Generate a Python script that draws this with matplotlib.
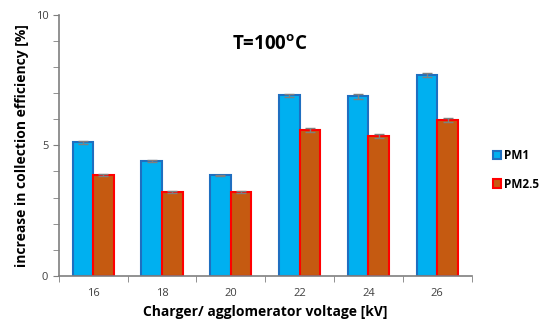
import matplotlib
matplotlib.use("Agg")
import matplotlib.pyplot as plt
import numpy as np
from matplotlib.patches import Patch
from matplotlib.ticker import MultipleLocator

categories = ["16", "18", "20", "22", "24", "26"]
pm1 = [5.12, 4.41, 3.85, 6.92, 6.88, 7.70]
pm25 = [3.86, 3.20, 3.22, 5.58, 5.36, 5.97]
pm1_err = [0.05, 0.04, 0.03, 0.05, 0.09, 0.07]
pm25_err = [0.05, 0.04, 0.04, 0.07, 0.08, 0.08]

plt.rcParams['font.family'] = ['Open Sans', 'DejaVu Sans']

fig = plt.figure(figsize=(5.44, 3.23), dpi=100)
ax = fig.add_axes([0.108, 0.1464, 0.759, 0.807])

x = np.arange(len(categories))
w = 0.3
blue_face, blue_edge = "#00B0F0", "#1F6FC0"
red_face, red_edge = "#C55A11", "#FF0000"
ax.bar(x - w/2, pm1, w, color=blue_face, edgecolor=blue_edge, linewidth=1.5,
       yerr=pm1_err, error_kw=dict(ecolor="#7F7F7F", capsize=3.5, elinewidth=1, capthick=1))
ax.bar(x + w/2, pm25, w, color=red_face, edgecolor=red_edge, linewidth=1.5,
       yerr=pm25_err, error_kw=dict(ecolor="#7F7F7F", capsize=3.5, elinewidth=1, capthick=1))

ax.set_xlim(-0.5, len(categories) - 0.5)
ax.set_ylim(0, 10)
ax.yaxis.set_major_locator(MultipleLocator(5))
ax.yaxis.set_minor_locator(MultipleLocator(1))
ax.set_xticks(x)
ax.set_xticklabels(categories)
ax.set_xticks(np.arange(-0.5, len(categories)), minor=True)
ax.tick_params(axis='x', which='major', length=0, labelsize=8, colors="#404040", pad=9)
ax.tick_params(axis='x', which='minor', length=4, direction='out', color="#7F7F7F")
ax.tick_params(axis='y', which='both', length=4, direction='out', color="#7F7F7F", labelsize=8, labelcolor="#404040")
for s in ['top', 'right']:
    ax.spines[s].set_visible(False)
for s in ['left', 'bottom']:
    ax.spines[s].set_color("#7F7F7F")
    ax.spines[s].set_linewidth(1.2)

ax.set_ylabel("increase in collection efficiency [%]", fontsize=10, fontweight='bold', labelpad=5)
ax.set_xlabel("Charger/ agglomerator voltage [kV]", fontsize=10, fontweight='bold', labelpad=4)

fig.text(270/544, 1 - 45/323, "T=100$^\\mathregular{o}$C", ha='center', va='center',
         fontsize=13.5, fontweight='bold')

handles = [Patch(facecolor=blue_face, edgecolor=blue_edge, linewidth=1.5, label="PM1"),
           Patch(facecolor=red_face, edgecolor=red_edge, linewidth=1.5, label="PM2.5")]
leg = fig.legend(handles=handles, loc='center left', bbox_to_anchor=(482/544, 1 - 170/323),
                 frameon=False, handlelength=0.7, handleheight=0.7, handletextpad=0.3,
                 labelspacing=1.3, prop=dict(size=8.5, weight='bold'))

fig.savefig("out.png", dpi=100)
